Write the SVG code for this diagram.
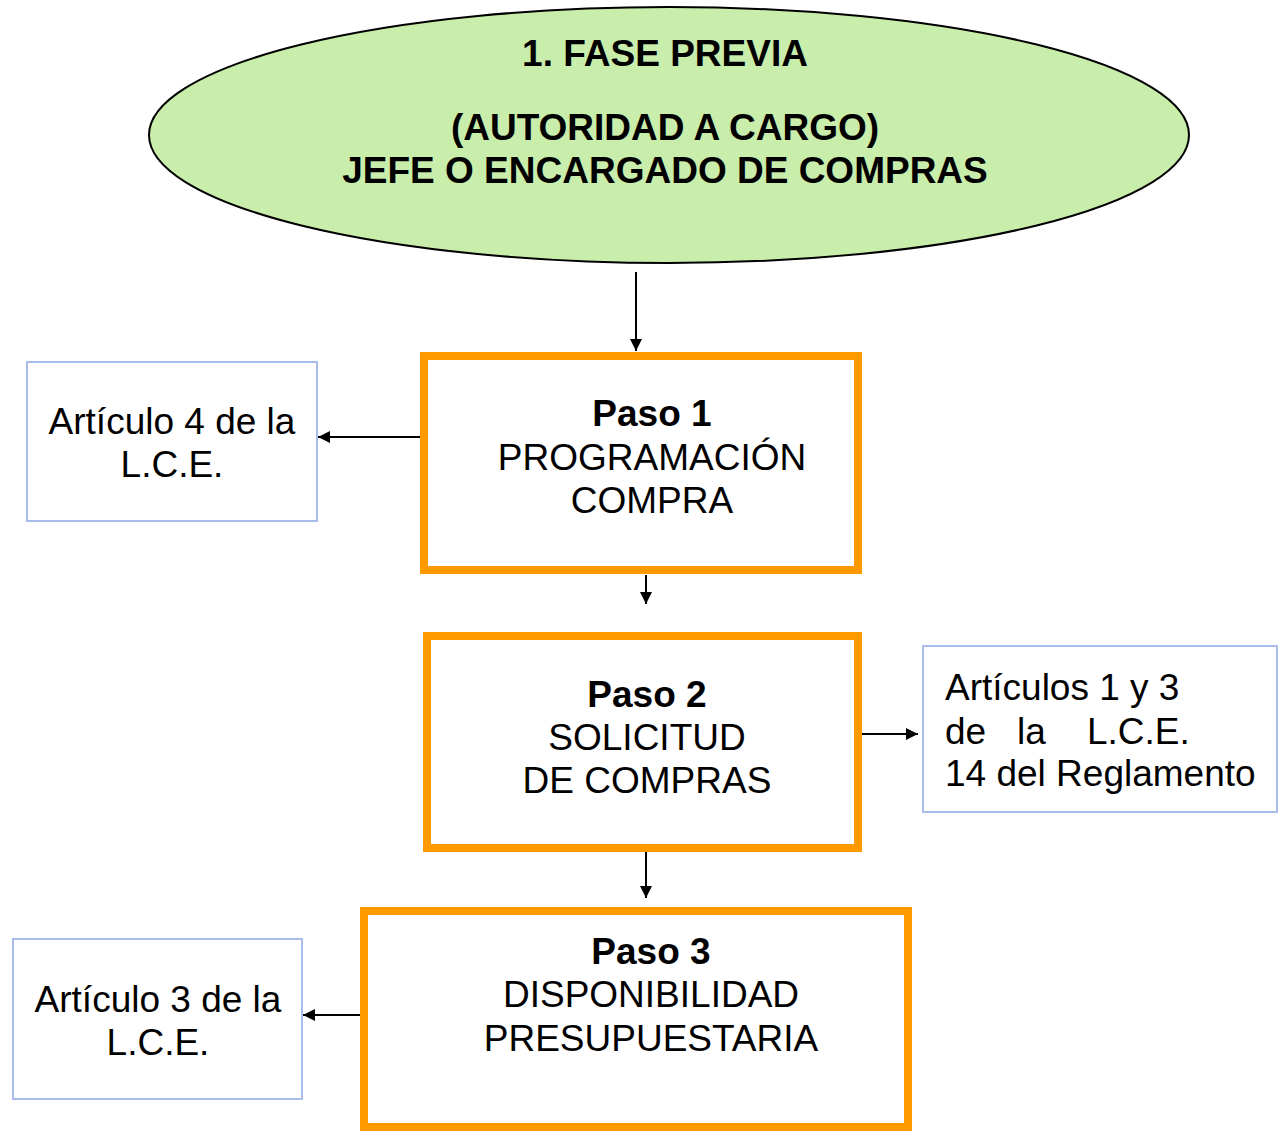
<svg xmlns="http://www.w3.org/2000/svg" width="1278" height="1132" viewBox="0 0 1278 1132">
<style>
text{font-family:"Liberation Sans",Arial,sans-serif;fill:#000}
.b{font-weight:bold}
.step{fill:#fff;stroke:#ff9900;stroke-width:8}
.ref{fill:#fff;stroke:#aabbee;stroke-width:2}
.c{stroke:#000;stroke-width:2;fill:none;marker-end:url(#ah)}
</style>
<defs>
<marker id="ah" markerWidth="14" markerHeight="14" refX="12" refY="6" orient="auto" markerUnits="userSpaceOnUse">
<path d="M0,0 L12,6 L0,12 z" fill="#000"/>
</marker>
</defs>
<rect width="1278" height="1132" fill="#fff"/>
<g id="connectors">
<line class="c" x1="636" y1="272" x2="636" y2="351"/>
<line class="c" x1="420" y1="437" x2="318" y2="437"/>
<line class="c" x1="646" y1="575" x2="646" y2="604"/>
<line class="c" x1="862" y1="734" x2="918" y2="734"/>
<line class="c" x1="646" y1="852" x2="646" y2="898"/>
<line class="c" x1="360" y1="1015" x2="303" y2="1015"/>
</g>
<g id="fase">
<ellipse cx="669" cy="135" rx="520" ry="128" fill="#c9eeab" stroke="#000" stroke-width="2"/>
<text class="b" x="665" y="66" font-size="37" text-anchor="middle">1. FASE PREVIA</text>
<text class="b" x="665" y="140" font-size="37" text-anchor="middle">(AUTORIDAD A CARGO)</text>
<text class="b" x="665" y="183" font-size="37" text-anchor="middle">JEFE O ENCARGADO DE COMPRAS</text>
</g>
<g id="paso1">
<rect class="step" x="424" y="356" width="434" height="214"/>
<text font-size="37" text-anchor="middle"><tspan class="b" x="652" y="426">Paso 1</tspan><tspan x="652" y="470">PROGRAMACIÓN</tspan><tspan x="652" y="513">COMPRA</tspan></text>
</g>
<g id="ref1">
<rect class="ref" x="27" y="362" width="290" height="159"/>
<text font-size="37" text-anchor="middle"><tspan x="172" y="434">Artículo 4 de la</tspan><tspan x="172" y="477">L.C.E.</tspan></text>
</g>
<g id="paso2">
<rect class="step" x="427" y="636" width="431" height="212"/>
<text font-size="37" text-anchor="middle"><tspan class="b" x="647" y="707">Paso 2</tspan><tspan x="647" y="750">SOLICITUD</tspan><tspan x="647" y="793">DE COMPRAS</tspan></text>
</g>
<g id="ref2">
<rect class="ref" x="923" y="646" width="354" height="166"/>
<text font-size="37"><tspan x="945" y="700">Artículos 1 y 3</tspan><tspan x="945" y="744">de</tspan><tspan x="1017" y="744">la</tspan><tspan x="1087" y="744">L.C.E.</tspan><tspan x="945" y="786">14 del Reglamento</tspan></text>
</g>
<g id="paso3">
<rect class="step" x="364" y="911" width="544" height="216"/>
<text font-size="37" text-anchor="middle"><tspan class="b" x="651" y="964">Paso 3</tspan><tspan x="651" y="1007">DISPONIBILIDAD</tspan><tspan x="651" y="1051">PRESUPUESTARIA</tspan></text>
</g>
<g id="ref3">
<rect class="ref" x="13" y="939" width="289" height="160"/>
<text font-size="37" text-anchor="middle"><tspan x="158" y="1012">Artículo 3 de la</tspan><tspan x="158" y="1055">L.C.E.</tspan></text>
</g>
</svg>
